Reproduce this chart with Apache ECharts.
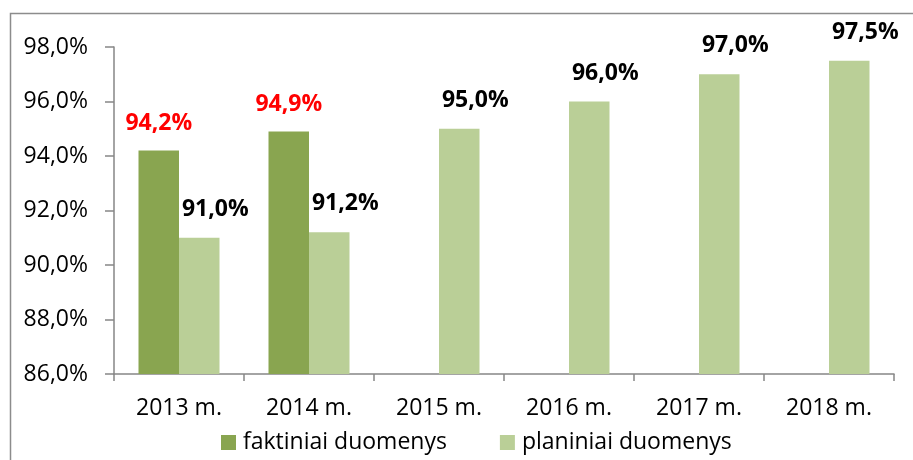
<!DOCTYPE html>
<html>
<head>
<meta charset="utf-8">
<script src="https://cdn.jsdelivr.net/npm/echarts@6/dist/echarts.min.js"></script>
<style>html,body{margin:0;padding:0;background:#fff;}#c{width:913px;height:460px;}</style>
</head>
<body>
<div id="c"></div>
<script>
const categories = ['2013 m.', '2014 m.', '2015 m.', '2016 m.', '2017 m.', '2018 m.'];
const faktiniai = [94.2, 94.9, null, null, null, null];
const planiniai = [91.0, 91.2, 95.0, 96.0, 97.0, 97.5];
const seriesNames = ['faktiniai duomenys', 'planiniai duomenys'];
const yMin = 86, yMax = 98, yStep = 2;

const fmt = v => v.toFixed(1).replace('.', ',') + '%';
const FONT = '"Open Sans", sans-serif';

const chart = echarts.init(document.getElementById('c'), null, {renderer: 'canvas'});
chart.setOption({
  animation: false,
  backgroundColor: '#fff',
  graphic: [{
    type: 'rect', silent: true,
    shape: {x: 10.5, y: 13.5, width: 1000, height: 1000},
    style: {fill: 'none', stroke: '#8c8c8c', lineWidth: 1.5}
  }],
  grid: {left: 114, right: 19, top: 47, bottom: 86, containLabel: false},
  legend: {
    left: 221, top: 431, itemWidth: 15, itemHeight: 15, itemGap: 53,
    icon: 'rect', padding: 0,
    textStyle: {fontFamily: FONT, fontSize: 23, color: '#000', padding: [0, 0, 0, 2]},
    data: seriesNames
  },
  xAxis: {
    type: 'category', data: categories,
    axisLine: {lineStyle: {color: '#868686', width: 1.5}},
    axisTick: {show: true, length: 7, lineStyle: {color: '#868686', width: 1.5}},
    axisLabel: {fontFamily: FONT, fontSize: 23, color: '#000', margin: 23}
  },
  yAxis: {
    type: 'value', min: yMin, max: yMax, interval: yStep,
    splitLine: {show: false},
    axisLine: {show: true, lineStyle: {color: '#868686', width: 1.5}},
    axisTick: {show: true, length: 9, lineStyle: {color: '#868686', width: 1.5}},
    axisLabel: {fontFamily: FONT, fontSize: 23, color: '#000', margin: 26, formatter: fmt}
  },
  series: [{
    name: seriesNames[0], type: 'bar', data: faktiniai,
    barWidth: 40.5, barGap: '0%',
    itemStyle: {color: '#89A550'},
    label: {show: true, position: 'top', distance: 16,
      fontFamily: FONT, fontSize: 23, fontWeight: 'bold', color: '#FF0000',
      formatter: p => fmt(p.value)}
  }, {
    name: seriesNames[1], type: 'bar', data: planiniai,
    barWidth: 40.5, barGap: '0%',
    itemStyle: {color: '#BACF97'},
    label: {show: true, position: 'top', distance: 17, offset: [16, 0],
      fontFamily: FONT, fontSize: 23, fontWeight: 'bold', color: '#000',
      formatter: p => fmt(p.value)}
  }]
});
</script>
</body>
</html>
